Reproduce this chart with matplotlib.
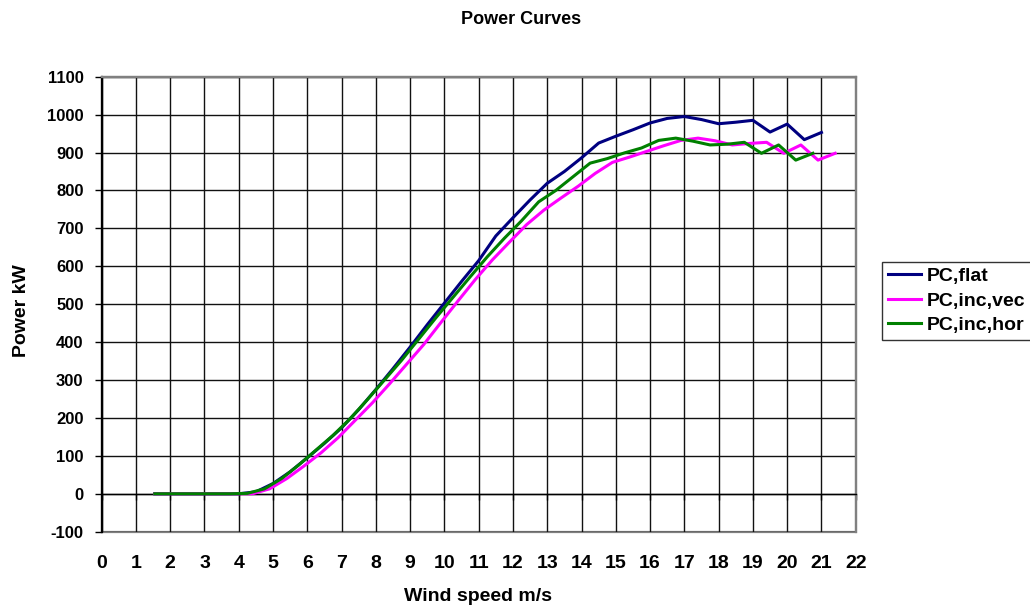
import matplotlib
matplotlib.use("Agg")
import matplotlib.pyplot as plt

plt.rcParams["font.family"] = ["Liberation Sans", "DejaVu Sans"]
plt.rcParams["font.weight"] = "bold"
plt.rcParams["axes.unicode_minus"] = False

# wind speed bins of each series (m/s)
ws_flat = [1.55, 2.0, 2.5, 3.0, 3.5, 4.0, 4.5, 5.0, 5.5, 6.0, 6.5, 7.0, 7.5, 8.0,
           8.5, 9.0, 9.5, 10.0, 10.5, 11.0, 11.5, 12.0, 12.5, 13.0, 13.5, 14.0,
           14.5, 15.0, 15.5, 16.0, 16.5, 17.0, 17.5, 18.0, 18.5, 19.0, 19.5,
           20.0, 20.5, 21.0]
ws_vec = [1.55, 2.4, 2.9, 3.4, 3.9, 4.4, 4.9, 5.4, 5.9, 6.4, 6.9, 7.4, 7.9, 8.4,
          8.9, 9.4, 9.9, 10.4, 10.9, 11.4, 11.9, 12.4, 12.9, 13.4, 13.9, 14.4,
          14.9, 15.4, 15.9, 16.4, 16.9, 17.4, 17.9, 18.4, 18.9, 19.4, 19.9,
          20.4, 20.9, 21.4]
ws_hor = [1.55, 2.25, 2.75, 3.25, 3.75, 4.25, 4.75, 5.25, 5.75, 6.25, 6.75,
          7.25, 7.75, 8.25, 8.75, 9.25, 9.75, 10.25, 10.75, 11.25, 11.75, 12.25,
          12.75, 13.25, 13.75, 14.25, 14.75, 15.25, 15.75, 16.25, 16.75, 17.25,
          17.75, 18.25, 18.75, 19.25, 19.75, 20.25, 20.75]

# power (kW)
pc_flat = [0, 0, 0, 0, 0, 0, 5, 27, 58, 95, 133, 174, 222, 275, 330, 387, 446,
           503, 560, 615, 680, 728, 775, 819, 850, 886, 925, 943, 960, 978, 990,
           995, 987, 976, 980, 985, 954, 975, 934, 953]
pc_vec = [0, 0, 0, 0, 0, 0, 13, 40, 73, 108, 148, 194, 240, 290, 342, 394, 452,
          509, 565, 617, 664, 710, 748, 780, 811, 845, 874, 888, 903, 918, 932,
          938, 931, 920, 924, 927, 898, 920, 880, 898]
pc_hor = [0, 0, 0, 0, 0, 1, 13, 40, 76, 115, 154, 198, 248, 300, 352, 408, 464,
          518, 572, 625, 674, 720, 770, 800, 836, 872, 884, 899, 912, 932, 938,
          930, 920, 922, 927, 898, 920, 880, 898]

fig = plt.figure(figsize=(10.3, 6.05), dpi=100)
ax = fig.add_axes([0.0987, 0.1212, 0.7321, 0.752])

ax.plot(ws_flat, pc_flat, color="#000080", lw=2.2, label="PC,flat", zorder=3)
ax.plot(ws_vec, pc_vec, color="#FF00FF", lw=2.2, label="PC,inc,vec", zorder=3)
ax.plot(ws_hor, pc_hor, color="#008000", lw=2.2, label="PC,inc,hor", zorder=3)

ax.set_xlim(0, 22)
ax.set_ylim(-100, 1100)
ax.set_xticks(range(0, 23))
ax.set_yticks(range(-100, 1101, 100))
ax.grid(True, color="#111111", lw=1.0)
ax.set_axisbelow(True)

# x axis crosses at 0 like in the spreadsheet chart
ax.spines["bottom"].set_position(("data", 0))
ax.spines["bottom"].set_color("black")
ax.spines["bottom"].set_linewidth(1.0)
ax.spines["left"].set_color("black")
ax.spines["left"].set_linewidth(1.6)
ax.spines["top"].set_color("#808080")
ax.spines["top"].set_linewidth(1.6)
ax.spines["right"].set_color("#808080")
ax.spines["right"].set_linewidth(1.6)
ax.patch.set_edgecolor("#808080")
ax.patch.set_linewidth(1.6)

ax.tick_params(axis="x", direction="out", length=4, width=1, pad=40, labelsize=14)
ax.tick_params(axis="y", direction="out", length=5, width=1, pad=8, labelsize=12)
for lab in ax.get_xticklabels() + ax.get_yticklabels():
    lab.set_fontweight("bold")

ax.set_xlabel("Wind speed m/s", fontsize=14, fontweight="bold")
ax.xaxis.set_label_coords(0.499, -0.124)
fig.text(22 / 1030, 1 - 311 / 605, "Power kW", rotation=90, ha="center",
         va="center", fontsize=14, fontweight="bold")
fig.text(521 / 1030, 1 - 20 / 605, "Power Curves", ha="center", va="center",
         fontsize=13, fontweight="bold")

leg = fig.legend(loc="upper left", bbox_to_anchor=(881.7 / 1030, 1 - 261.7 / 605),
                 fontsize=14, frameon=True, fancybox=False, shadow=False,
                 borderaxespad=0, borderpad=0.3, handlelength=1.7,
                 handletextpad=0.3, labelspacing=0.35)
leg.get_frame().set_edgecolor("black")
leg.get_frame().set_linewidth(1.0)
for t in leg.get_texts():
    t.set_fontweight("bold")

plt.savefig("out.png", dpi=100)
